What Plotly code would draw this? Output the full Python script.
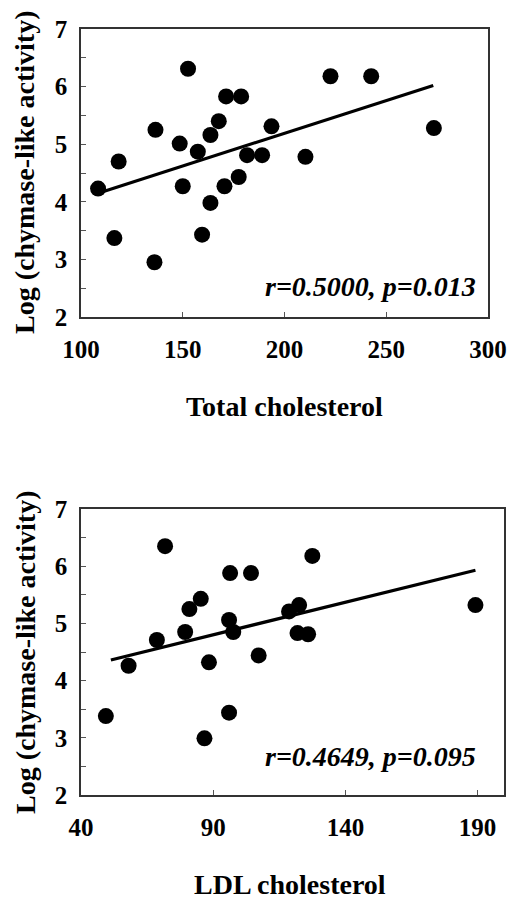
import plotly.graph_objects as go

# ---- data: Total cholesterol panel ----
tc_x = [108.4, 118.5, 116.4, 136.6, 136.1, 152.6, 148.5, 150.0, 157.4, 163.6, 167.7, 163.6,
        159.5, 171.3, 178.7, 170.5, 177.5, 181.6, 189.0, 193.6, 210.3, 222.6, 242.6, 273.4]
tc_y = [4.23, 4.70, 3.37, 5.25, 2.95, 6.31, 5.01, 4.27, 4.87, 5.16, 5.40, 3.98,
        3.43, 5.83, 5.83, 4.27, 4.43, 4.81, 4.81, 5.31, 4.78, 6.18, 6.18, 5.28]
tc_fit_x = [108.4, 273.1]
tc_fit_y = [4.15, 6.02]

# ---- data: LDL cholesterol panel ----
ldl_x = [49.4, 58.0, 68.7, 71.8, 79.4, 81.0, 85.3, 88.4, 86.7, 96.0, 96.0,
         97.6, 96.4, 104.3, 107.2, 118.7, 122.5, 121.9, 125.9, 127.5, 189.2]
ldl_y = [3.38, 4.26, 4.71, 6.35, 4.85, 5.25, 5.43, 4.32, 2.99, 3.44, 5.06,
         4.85, 5.88, 5.88, 4.44, 5.21, 5.32, 4.83, 4.81, 6.18, 5.32]
ldl_fit_x = [51.3, 189.2]
ldl_fit_y = [4.36, 5.93]

tc_ticks = [100, 150, 200, 250, 300]
ldl_ticks = [40, 90, 140, 190]
y_ticks = [2, 2.5, 3, 3.5, 4, 4.5, 5, 5.5, 6, 6.5, 7]
y_text = ["<b>%d</b>" % v if v == int(v) else "" for v in y_ticks]

labels = {
    "ytitle": "Log (chymase-like activity)",
    "x1": "Total cholesterol",
    "x2": "LDL cholesterol",
    "s1": "r=0.5000, p=0.013",
    "s2": "r=0.4649, p=0.095",
}

# page body has an 8px margin; size the figure to fit the window
OFF = 8
W, H = 515 - OFF, 900 - OFF
FONT = "Liberation Serif"

def px_x(p):
    return (p - OFF) / W

def px_y(p):
    return 1 - (p - OFF) / H

fig = go.Figure()

marker = dict(color="black", size=16, symbol="circle")
fig.add_trace(go.Scatter(x=tc_x, y=tc_y, mode="markers", marker=marker,
                         xaxis="x", yaxis="y", showlegend=False))
fig.add_trace(go.Scatter(x=tc_fit_x, y=tc_fit_y, mode="lines",
                         line=dict(color="black", width=3.2),
                         xaxis="x", yaxis="y", showlegend=False))
fig.add_trace(go.Scatter(x=ldl_x, y=ldl_y, mode="markers", marker=marker,
                         xaxis="x2", yaxis="y2", showlegend=False))
fig.add_trace(go.Scatter(x=ldl_fit_x, y=ldl_fit_y, mode="lines",
                         line=dict(color="black", width=3.2),
                         xaxis="x2", yaxis="y2", showlegend=False))

axis_common = dict(showline=True, linecolor="#333333", linewidth=1.5, mirror=True,
                   ticks="inside", ticklen=5, tickcolor="#555555", tickwidth=1,
                   showgrid=False, zeroline=False, automargin=False,
                   tickfont=dict(family=FONT, size=25, color="black"))

fig.update_layout(
    width=W, height=H,
    margin=dict(l=0, r=0, t=0, b=0, pad=0),
    paper_bgcolor="white", plot_bgcolor="white",
    xaxis=dict(domain=[px_x(81), px_x(488)], range=[100, 300], anchor="y",
               tickmode="array", tickvals=tc_ticks,
               ticktext=["<b>%d</b>" % v for v in tc_ticks], ticklabelstandoff=9,
               **axis_common),
    yaxis=dict(domain=[px_y(317), px_y(29)], range=[2, 7], anchor="x",
               tickmode="array", tickvals=y_ticks, ticktext=y_text,
               ticklabelstandoff=7, **axis_common),
    xaxis2=dict(domain=[px_x(81), px_x(504)], range=[40, 200], anchor="y2",
                tickmode="array", tickvals=ldl_ticks,
                ticktext=["<b>%d</b>" % v for v in ldl_ticks], ticklabelstandoff=9,
                **axis_common),
    yaxis2=dict(domain=[px_y(795), px_y(509)], range=[2, 7], anchor="x2",
                tickmode="array", tickvals=y_ticks, ticktext=y_text,
                ticklabelstandoff=7, **axis_common),
)

title_font = dict(family=FONT, size=28, color="black")
ann = []
ann.append(dict(text="<b>" + labels["ytitle"] + "</b>", x=px_x(25), y=px_y(172),
                xref="paper", yref="paper", textangle=-90, showarrow=False,
                font=dict(family=FONT, size=28, color="black"),
                xanchor="center", yanchor="middle"))
ann.append(dict(text="<b>" + labels["ytitle"] + "</b>", x=px_x(25), y=px_y(652),
                xref="paper", yref="paper", textangle=-90, showarrow=False,
                font=dict(family=FONT, size=28, color="black"),
                xanchor="center", yanchor="middle"))
ann.append(dict(text="<b>" + labels["x1"] + "</b>", x=px_x(284), y=px_y(406),
                xref="paper", yref="paper", showarrow=False, font=title_font,
                xanchor="center", yanchor="middle"))
ann.append(dict(text="<b>" + labels["x2"] + "</b>", x=px_x(290), y=px_y(884),
                xref="paper", yref="paper", showarrow=False, font=title_font,
                xanchor="center", yanchor="middle"))
ann.append(dict(text="<b><i>" + labels["s1"] + "</i></b>", x=px_x(478), y=px_y(287),
                xref="paper", yref="paper", showarrow=False,
                font=dict(family=FONT, size=28, color="black"),
                xanchor="right", yanchor="middle"))
ann.append(dict(text="<b><i>" + labels["s2"] + "</i></b>", x=px_x(478), y=px_y(756),
                xref="paper", yref="paper", showarrow=False,
                font=dict(family=FONT, size=28, color="black"),
                xanchor="right", yanchor="middle"))
fig.update_layout(annotations=ann)

fig.write_html("out.html")
